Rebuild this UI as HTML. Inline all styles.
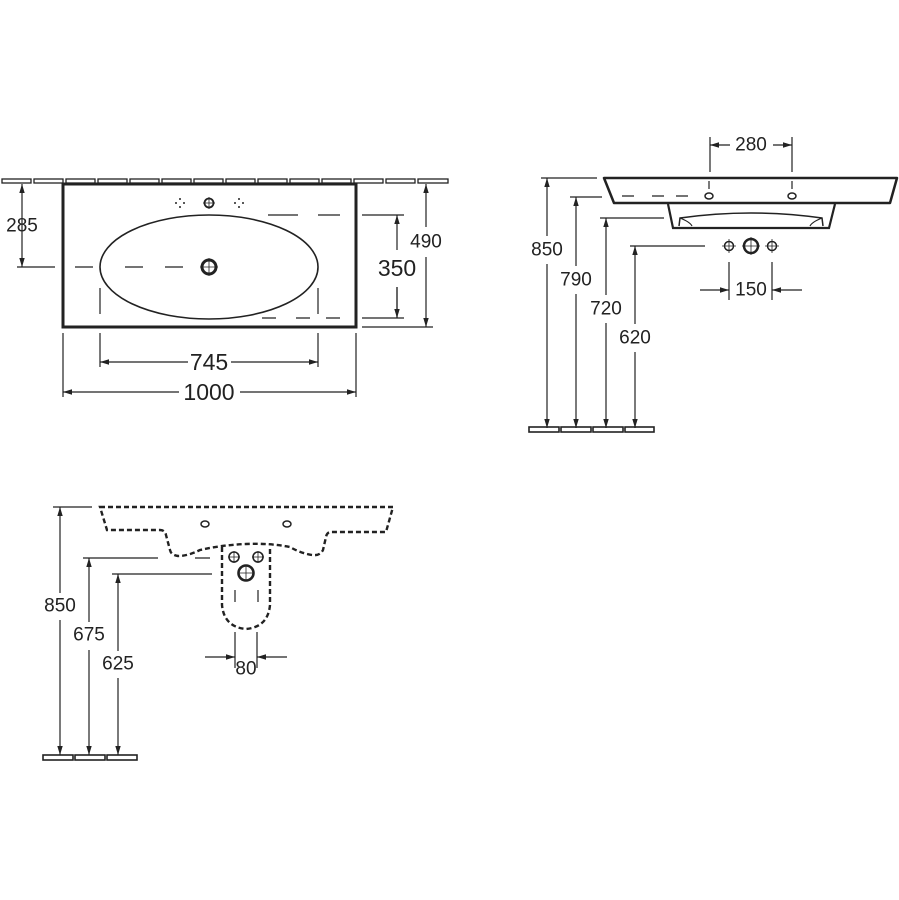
<!DOCTYPE html>
<html><head><meta charset="utf-8"><style>
html,body{margin:0;padding:0;background:#fff;}
svg{display:block;}
text{font-family:"Liberation Sans",sans-serif;fill:#222;text-anchor:middle;dominant-baseline:central;}
</style></head><body>
<svg width="899" height="900" viewBox="0 0 899 900" xmlns="http://www.w3.org/2000/svg">
<defs>
<marker id="a" viewBox="0 0 10 10" refX="10" refY="5" markerWidth="9" markerHeight="9" orient="auto-start-reverse" markerUnits="userSpaceOnUse"><path d="M0,2 L10,5 L0,8 Z" fill="#222"/></marker>
</defs>
<g stroke="#222" fill="none" stroke-width="1.2">
<!-- TOP LEFT -->
<g stroke-width="1.3">
<rect x="2" y="179" width="29" height="4"/><rect x="34" y="179" width="29" height="4"/><rect x="66" y="179" width="29" height="4"/><rect x="98" y="179" width="29" height="4"/><rect x="130" y="179" width="29" height="4"/><rect x="162" y="179" width="29" height="4"/><rect x="194" y="179" width="29" height="4"/><rect x="226" y="179" width="29" height="4"/><rect x="258" y="179" width="29" height="4"/><rect x="290" y="179" width="29" height="4"/><rect x="322" y="179" width="29" height="4"/><rect x="354" y="179" width="29" height="4"/><rect x="386" y="179" width="29" height="4"/><rect x="418" y="179" width="30" height="4"/>
</g>
<rect x="63" y="184" width="293" height="143" stroke-width="3"/>
<ellipse cx="209" cy="267" rx="109" ry="52" stroke-width="1.6"/>
<circle cx="209" cy="267" r="7" stroke-width="3"/>
<path d="M200 267h18M209 258v18" stroke-width="0.8"/>
<circle cx="209" cy="203" r="4.5" stroke-width="1.8"/>
<path d="M203 203h12M209 197v12" stroke-width="0.8"/>
<path d="M175 203h2M183 203h2M180 198v2M180 206v2M234 203h2M242 203h2M239 198v2M239 206v2" stroke-width="1.5"/>
<path d="M17 267h38M75 267h18M125 267h18M165 267h18" />
<path d="M268 215h30M318 215h22M362 215h42M262 318h14M296 318h14M326 318h14M362 318h42M362 327h71"/>
<path d="M22 184V267" marker-start="url(#a)" marker-end="url(#a)"/>
<path d="M397 215V250M397 287V318" marker-start="url(#a)"/>
<path d="M397 287V318" marker-end="url(#a)"/>
<path d="M426 227V184" marker-end="url(#a)"/><path d="M426 257V327" marker-end="url(#a)"/>
<path d="M100 288v26M318 288v26"/>
<path d="M100 333V367M318 333V367M63 333V397M356 333V397"/>
<path d="M188 362H100" marker-end="url(#a)"/><path d="M231 362H318" marker-end="url(#a)"/>
<path d="M179 392H63" marker-end="url(#a)"/><path d="M240 392H356" marker-end="url(#a)"/>

<!-- TOP RIGHT -->
<path d="M604 178H897L890 203H614Z" stroke-width="2.5" stroke-linejoin="round"/>
<path d="M668 204L673 228H829L835 204" stroke-width="2.2"/>
<path d="M679 226L680 218Q751 208 822 218L823 226" stroke-width="1.5"/>
<path d="M680 218Q690 222 692 226M822 218Q812 222 810 226" stroke-width="1.2"/>
<ellipse cx="709" cy="196" rx="4" ry="3" stroke-width="1.5"/>
<ellipse cx="792" cy="196" rx="4" ry="3" stroke-width="1.5"/>
<path d="M622 196h12M652 196h12M676 196h12M709 181v8M792 181v8"/>
<path d="M710 137V172M792 137V172"/>
<path d="M730 145H710" marker-end="url(#a)"/><path d="M773 145H792" marker-end="url(#a)"/>
<circle cx="729" cy="246" r="4.5" stroke-width="1.5"/><circle cx="751" cy="246" r="7" stroke-width="2.5"/><circle cx="772" cy="246" r="4.5" stroke-width="1.5"/>
<path d="M722 246h14M729 239v14M765 246h14M772 239v14M742 246h18M751 237v18" stroke-width="0.8"/>
<path d="M729 262V300M772 262V300"/>
<path d="M700 290H729" marker-end="url(#a)"/><path d="M802 290H772" marker-end="url(#a)"/>
<path d="M541 178H597M570 197H602M600 218H664M630 246H705"/>
<path d="M547 236V178" marker-end="url(#a)"/><path d="M547 264V428" marker-end="url(#a)"/>
<path d="M576 266V197" marker-end="url(#a)"/><path d="M576 294V428" marker-end="url(#a)"/>
<path d="M606 295V218" marker-end="url(#a)"/><path d="M606 323V428" marker-end="url(#a)"/>
<path d="M635 324V246" marker-end="url(#a)"/><path d="M635 352V428" marker-end="url(#a)"/>
<g stroke-width="1.6"><rect x="529" y="427" width="30" height="5"/><rect x="561" y="427" width="30" height="5"/><rect x="593" y="427" width="30" height="5"/><rect x="625" y="427" width="29" height="5"/></g>

<!-- BOTTOM LEFT -->
<g stroke-width="2.4" stroke-dasharray="5 3">
<path d="M100 507H393L386 532H331Q327 532 326 537L323 550Q320 556 312 555Q300 553 290 547Q270 543 246 544Q222 545 200 550Q188 556 178 556Q171 555 170 550L166 535Q165 530 160 530H107Z"/>
<path d="M222 547V605Q224 627 246 629Q268 627 270 605V547"/>
</g>
<ellipse cx="205" cy="524" rx="4" ry="3" stroke-width="1.5"/><ellipse cx="287" cy="524" rx="4" ry="3" stroke-width="1.5"/>
<circle cx="234" cy="557" r="5" stroke-width="1.6"/><circle cx="258" cy="557" r="5" stroke-width="1.6"/><circle cx="246" cy="573" r="7.5" stroke-width="2.6"/>
<path d="M228 557h12M234 551v12M252 557h12M258 551v12M238 573h16M246 565v16" stroke-width="0.8"/>
<path d="M235 590v12M258 590v12M235 632V668M257 632V668"/>
<path d="M205 657H235" marker-end="url(#a)"/><path d="M287 657H257" marker-end="url(#a)"/>
<path d="M53 507H92M83 558H158M195 558H210M112 574H212"/>
<path d="M60 593V507" marker-end="url(#a)"/><path d="M60 620V755" marker-end="url(#a)"/>
<path d="M89 622V558" marker-end="url(#a)"/><path d="M89 650V755" marker-end="url(#a)"/>
<path d="M118 651V574" marker-end="url(#a)"/><path d="M118 678V755" marker-end="url(#a)"/>
<g stroke-width="1.6"><rect x="43" y="755" width="30" height="5"/><rect x="75" y="755" width="30" height="5"/><rect x="107" y="755" width="30" height="5"/></g>
</g>
<g font-size="19">
<text x="22" y="226">285</text>
<text x="426" y="242">490</text>
<text x="547" y="250">850</text>
<text x="576" y="280">790</text>
<text x="606" y="309">720</text>
<text x="635" y="338">620</text>
<text x="751" y="145">280</text>
<text x="751" y="290">150</text>
<text x="60" y="606">850</text>
<text x="89" y="635">675</text>
<text x="118" y="664">625</text>
<text x="246" y="669">80</text>
</g>
<g font-size="23">
<text x="397" y="268">350</text>
<text x="209" y="362">745</text>
<text x="209" y="392">1000</text>
</g>
</svg>
</body></html>
